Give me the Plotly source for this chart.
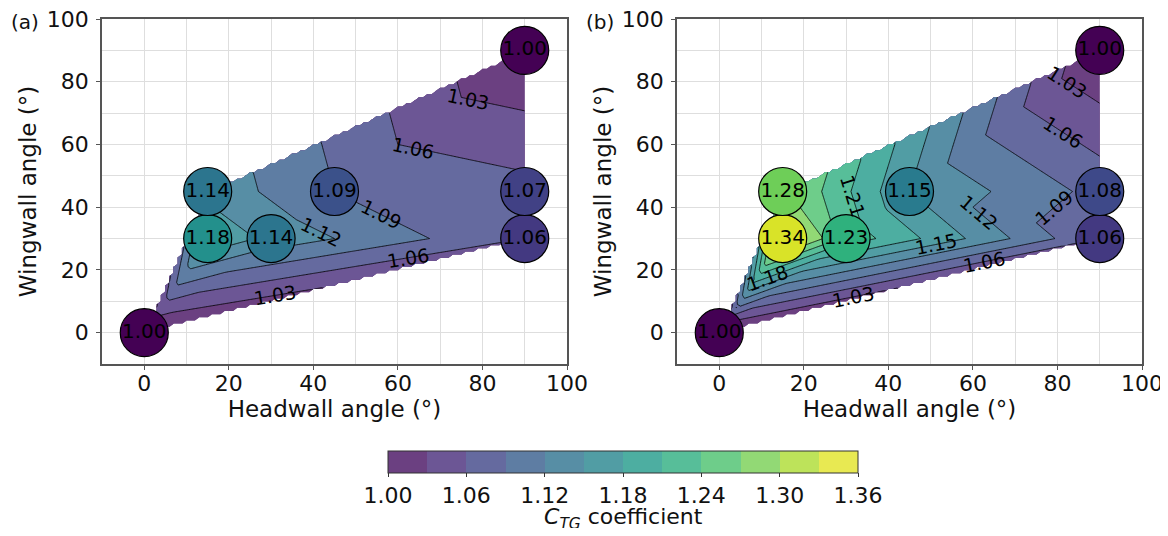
import math
from collections import defaultdict
import numpy as np
import plotly.graph_objects as go
from plotly.colors import sample_colorscale, hex_to_rgb

# ---------------- data ----------------
headwall = [0, 15, 15, 30, 45, 90, 90, 90]
wingwall = [0, 30, 45, 30, 45, 30, 45, 90]
ctg_a = [1.00, 1.18, 1.14, 1.14, 1.09, 1.06, 1.07, 1.00]
ctg_b = [1.00, 1.34, 1.28, 1.23, 1.15, 1.06, 1.08, 1.00]
panel_labels = ["(a)", "(b)"]
level_start, level_end, level_step = 1.00, 1.36, 0.03
cbar_ticks = [1.00, 1.06, 1.12, 1.18, 1.24, 1.30, 1.36]
cbar_title = "<i>C<sub>TG</sub></i> coefficient"
FONT = "DejaVu Sans"

# page body has an 8px margin: figure is drawn at (8, 8)
W, H = 1152, 520
AX_RANGE = [-10, 100]
PLOT_W, PLOT_H = 465, 345
SX = PLOT_W / (AX_RANGE[1] - AX_RANGE[0])   # px per data unit
SY = PLOT_H / (AX_RANGE[1] - AX_RANGE[0])
MARKER_PX = 48


# ------------- Delaunay (brute force) + linear interpolation on grid -------------
def delaunay(px, py):
    n = len(px)
    tris = []
    for i in range(n):
        for j in range(i + 1, n):
            for k in range(j + 1, n):
                ax, ay, bx, by, cx, cy = px[i], py[i], px[j], py[j], px[k], py[k]
                d = 2 * (ax * (by - cy) + bx * (cy - ay) + cx * (ay - by))
                if abs(d) < 1e-9:
                    continue
                a2, b2, c2 = ax * ax + ay * ay, bx * bx + by * by, cx * cx + cy * cy
                ux = (a2 * (by - cy) + b2 * (cy - ay) + c2 * (ay - by)) / d
                uy = (a2 * (cx - bx) + b2 * (ax - cx) + c2 * (bx - ax)) / d
                r2 = (ax - ux) ** 2 + (ay - uy) ** 2
                ok = True
                for m in range(n):
                    if m in (i, j, k):
                        continue
                    if (px[m] - ux) ** 2 + (py[m] - uy) ** 2 < r2 * (1 - 1e-9):
                        ok = False
                        break
                if ok:
                    tris.append((i, j, k))
    return tris


def grid_interp(px, py, pz, gx, gy):
    px, py, pz = map(np.asarray, (px, py, pz))
    X, Y = np.meshgrid(gx, gy)
    Z = np.full(X.shape, np.nan)
    for (i, j, k) in delaunay(px, py):
        x1, y1, x2, y2, x3, y3 = px[i], py[i], px[j], py[j], px[k], py[k]
        det = (y2 - y3) * (x1 - x3) + (x3 - x2) * (y1 - y3)
        l1 = ((y2 - y3) * (X - x3) + (x3 - x2) * (Y - y3)) / det
        l2 = ((y3 - y1) * (X - x3) + (x1 - x3) * (Y - y3)) / det
        l3 = 1 - l1 - l2
        inside = (l1 >= -1e-9) & (l2 >= -1e-9) & (l3 >= -1e-9) & np.isnan(Z)
        Z[inside] = (l1 * pz[i] + l2 * pz[j] + l3 * pz[k])[inside]
    return Z


def contour_paths(px, py, pz, level):
    """Marching triangles on the Delaunay mesh -> list of polylines (data coords)."""
    segs = []
    for tri in delaunay(px, py):
        pts = []
        for a, b in ((tri[0], tri[1]), (tri[1], tri[2]), (tri[2], tri[0])):
            za, zb = pz[a], pz[b]
            if (za - level) * (zb - level) < 0:
                t = (level - za) / (zb - za)
                pts.append(((min(a, b), max(a, b)),
                            (px[a] + t * (px[b] - px[a]), py[a] + t * (py[b] - py[a]))))
        if len(pts) == 2:
            segs.append(pts)
    e2s = defaultdict(list)
    for si, s in enumerate(segs):
        for key, _ in s:
            e2s[key].append(si)
    used = set()

    def extend(key):
        out = []
        while True:
            nxt = [t for t in e2s[key] if t not in used]
            if not nxt:
                return out
            t = nxt[0]
            used.add(t)
            s = segs[t]
            other = s[1] if s[0][0] == key else s[0]
            out.append(other[1])
            key = other[0]

    paths = []
    for si, s in enumerate(segs):
        if si in used:
            continue
        used.add(si)
        fwd = extend(s[1][0])
        bwd = extend(s[0][0])
        paths.append(list(reversed(bwd)) + [s[0][1], s[1][1]] + fwd)
    return paths


def label_spot(path, centers, placed, frac=0.3):
    """Point ~frac of the way along a path (from its upper end), away from circles/labels."""
    if path[-1][1] > path[0][1]:
        path = path[::-1]
    P = [(x * SX, y * SY) for x, y in path]
    cum = [0.0]
    for (x0, y0), (x1, y1) in zip(P[:-1], P[1:]):
        cum.append(cum[-1] + math.hypot(x1 - x0, y1 - y0))
    L = cum[-1]
    if L < 50:
        return None
    best = None
    s = 0.0
    while s <= L:
        if 20 <= s <= L - 20:
            i = max(0, min(len(P) - 2, int(np.searchsorted(cum, s)) - 1))
            seg = cum[i + 1] - cum[i]
            t = (s - cum[i]) / seg if seg > 0 else 0
            x = P[i][0] + t * (P[i + 1][0] - P[i][0])
            y = P[i][1] + t * (P[i + 1][1] - P[i][1])
            dmin = min(math.hypot(x - cx * SX, y - cy * SY) for cx, cy in centers)
            dlab = min([math.hypot(x - qx * SX, y - qy * SY) for qx, qy in placed] + [1e9])
            if dmin >= 42 and dlab >= 50:
                score = abs(s - frac * L)
                if best is None or score < best[0]:
                    dx, dy = P[i + 1][0] - P[i][0], P[i + 1][1] - P[i][1]
                    ang = -math.degrees(math.atan2(dy, dx))
                    if ang > 90:
                        ang -= 180
                    if ang < -90:
                        ang += 180
                    best = (score, x / SX, y / SY, ang)
        s += 2.0
    return best


gx = np.linspace(0, 90, 91)
gy = np.linspace(0, 90, 91)


def to_list(Z):
    return [[None if np.isnan(v) else float(v) for v in row] for row in Z]


# ------------- colours -------------
nb = int(round((level_end - level_start) / level_step))  # 12 bands
alpha = 0.8


def rgb_of(c):
    return [int(float(v)) for v in c.strip("rgb()").split(",")] if c.startswith("rgb") else list(hex_to_rgb(c))


def wash(c):
    return "rgb(%d,%d,%d)" % tuple(round(alpha * v + (1 - alpha) * 255) for v in rgb_of(c))


band_cols = [wash(c) for c in sample_colorscale("Viridis", [(i + 0.5) / nb for i in range(nb)])]
# contour fill: plotly maps band i to position (i+1)/(nb+1); build a stepped scale
stepcols = [band_cols[0]] + band_cols + [band_cols[-1]]
fill_scale = []
for kk, col in enumerate(stepcols):
    fill_scale.append([max(0.0, (kk - 0.5) / (nb + 1)), col])
    fill_scale.append([min(1.0, (kk + 0.5) / (nb + 1)), col])
# colorbar: 12 equal steps between level_start and level_end
bar_scale = []
for kk, col in enumerate(band_cols):
    bar_scale.append([kk / nb, col])
    bar_scale.append([(kk + 1) / nb, col])

fig = go.Figure()
centers = list(zip(headwall, wingwall))

panels = [(ctg_a, "x", "y"), (ctg_b, "x2", "y2")]
for idx, (vals, xa, ya) in enumerate(panels):
    Z = grid_interp(headwall, wingwall, vals, gx, gy)
    fig.add_trace(go.Contour(
        x=gx, y=gy, z=to_list(Z), xaxis=xa, yaxis=ya,
        autocontour=False,
        contours=dict(start=level_start, end=level_end, size=level_step, coloring="fill",
                      showlines=True, showlabels=False),
        line=dict(color="black", width=0.8, smoothing=0),
        colorscale=fill_scale, connectgaps=False, showscale=False,
        hoverinfo="skip",
    ))
    fig.add_trace(go.Scatter(
        x=headwall, y=wingwall, xaxis=xa, yaxis=ya, mode="markers+text",
        text=["%.2f" % v for v in vals], textposition="middle center",
        textfont=dict(size=20, color="black", family=FONT),
        marker=dict(size=MARKER_PX, color=vals, colorscale="Viridis", cmin=level_start, cmax=level_end,
                    line=dict(color="black", width=1.2), opacity=1),
        cliponaxis=False, showlegend=False, hoverinfo="skip",
    ))
    # inline contour labels
    placed = []
    for li in range(1, nb):
        lev = level_start + li * level_step
        for path in contour_paths(headwall, wingwall, vals, lev + 1e-7):
            spot = label_spot(path, centers, placed)
            if spot is None:
                continue
            _, lx, ly, ang = spot
            placed.append((lx, ly))
            fig.add_annotation(x=lx, y=ly, xref=xa, yref=ya, text="%.2f" % lev, showarrow=False,
                               textangle=ang, font=dict(size=19, color="black", family=FONT),
                               borderpad=0)

# colour bar carrier (invisible)
fig.add_trace(go.Scatter(
    x=[None, None], y=[None, None], mode="markers", showlegend=False, hoverinfo="skip",
    marker=dict(size=1, opacity=0, color=[level_start, level_end], cmin=level_start, cmax=level_end,
                colorscale=bar_scale, showscale=True,
                colorbar=dict(orientation="h", x=615 / W, xanchor="center", len=470 / W,
                              lenmode="fraction", y=1 - 443 / H, yanchor="top", thickness=22,
                              xpad=0, ypad=0, outlinecolor="#333", outlinewidth=1,
                              tickvals=cbar_ticks, tickformat=".2f", ticks="outside", ticklen=4,
                              tickcolor="#333",
                              tickfont=dict(size=22, family=FONT, color="#111"))),
))
fig.add_annotation(text=cbar_title, xref="paper", yref="paper", x=615 / W, y=1 - 510 / H,
                   xanchor="center", yanchor="middle", showarrow=False,
                   font=dict(size=22, family=FONT, color="#111"))

axis_common = dict(
    range=AX_RANGE, tick0=0, dtick=20, showgrid=True, gridcolor="#dedede", gridwidth=1,
    minor=dict(tick0=0, dtick=10, showgrid=True, gridcolor="#dedede", gridwidth=1),
    showline=True, mirror=True, linecolor="#555", linewidth=1.5,
    ticks="outside", ticklen=4, tickcolor="#555", ticklabeloverflow="allow",
    tickfont=dict(size=22, family=FONT, color="#111"), zeroline=False,
)
ydom = [1 - 356 / H, 1 - 11 / H]
tfont = dict(size=23, color="#111", family=FONT)
fig.update_layout(
    width=W, height=H, margin=dict(l=0, r=0, t=0, b=0, autoexpand=False),
    paper_bgcolor="white", plot_bgcolor="white", showlegend=False,
    font=dict(family=FONT),
    xaxis=dict(domain=[94 / W, (94 + PLOT_W) / W], anchor="y", ticklabelstandoff=-5,
               title=dict(text="Headwall angle (°)", font=tfont, standoff=2), **axis_common),
    yaxis=dict(domain=ydom, anchor="x", ticklabelstandoff=3,
               title=dict(text="Wingwall angle (°)", font=tfont, standoff=4), **axis_common),
    xaxis2=dict(domain=[669 / W, (669 + PLOT_W) / W], anchor="y2", ticklabelstandoff=-5,
                title=dict(text="Headwall angle (°)", font=tfont, standoff=2), **axis_common),
    yaxis2=dict(domain=ydom, anchor="x2", ticklabelstandoff=3,
                title=dict(text="Wingwall angle (°)", font=tfont, standoff=4), **axis_common),
)
for lbl, xp in zip(panel_labels, [1 / W, 576 / W]):
    fig.add_annotation(text=lbl, xref="paper", yref="paper", x=xp, y=1,
                       xanchor="left", yanchor="top", showarrow=False,
                       font=dict(size=20, family=FONT, color="#111"))

fig.write_html("out.html")
